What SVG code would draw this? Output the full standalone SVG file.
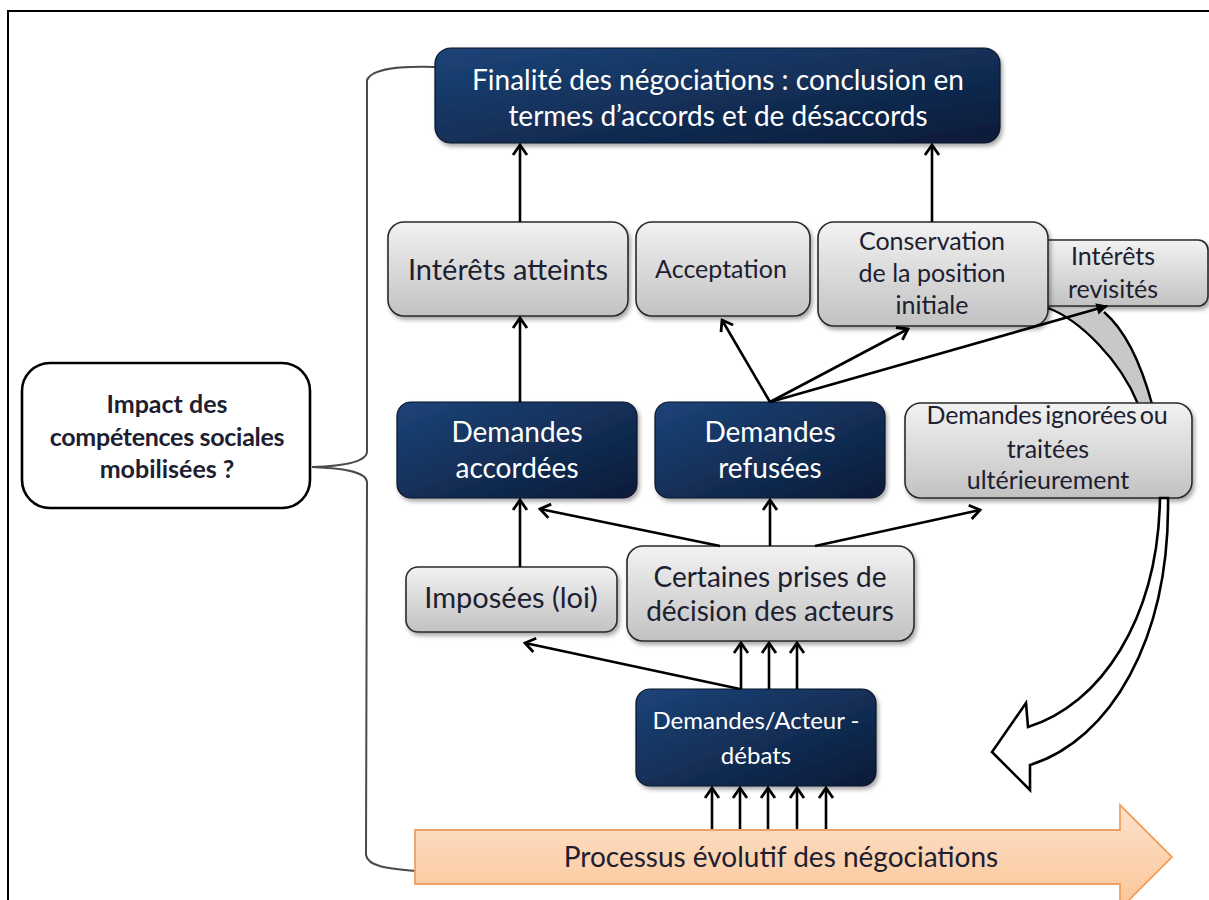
<svg xmlns="http://www.w3.org/2000/svg" width="1209" height="900" viewBox="0 0 1209 900">
<defs>
<linearGradient id="dark" x1="0" y1="0" x2="1" y2="1">
<stop offset="0" stop-color="#1c4478"/>
<stop offset="1" stop-color="#0a1b38"/>
</linearGradient>
<linearGradient id="gray" x1="0" y1="0" x2="0" y2="1">
<stop offset="0" stop-color="#f2f2f2"/>
<stop offset="1" stop-color="#c2c2c2"/>
</linearGradient>
<linearGradient id="orange" x1="0" y1="0" x2="0" y2="1">
<stop offset="0" stop-color="#fde2cc"/>
<stop offset="1" stop-color="#fbc597"/>
</linearGradient>
<filter id="sh" x="-5%" y="-5%" width="115%" height="125%">
<feDropShadow dx="2" dy="3" stdDeviation="2" flood-color="#000" flood-opacity="0.35"/>
</filter>
<marker id="ah" viewBox="-14 -9 16 18" refX="0" refY="0" markerWidth="16" markerHeight="18" markerUnits="userSpaceOnUse" orient="auto">
<path d="M -10 -7 L 0 0 L -10 7" fill="none" stroke="#000" stroke-width="2.8"/>
</marker>
<marker id="af" viewBox="-12 -8 14 16" refX="0" refY="0" markerWidth="14" markerHeight="16" markerUnits="userSpaceOnUse" orient="auto">
<path d="M -10 -5 L 0 0 L -10 5 Z" fill="#000" stroke="#000" stroke-width="1"/>
</marker>
<style>
.d{fill:url(#dark);stroke:#0a1428;stroke-width:1.2;filter:url(#sh)}
.g{fill:url(#gray);stroke:#2a2a2a;stroke-width:1.6;filter:url(#sh)}
.tw{font-family:Lato,"Open Sans","Liberation Sans",sans-serif;fill:#fff;text-anchor:middle}
.tg{font-family:Lato,"Open Sans","Liberation Sans",sans-serif;fill:#1c2030;text-anchor:middle}
.c{stroke:#000;stroke-width:2.6;fill:none}
</style>
</defs>
<rect x="0" y="0" width="1209" height="900" fill="#fff"/>
<rect x="8" y="11" width="1220" height="910" fill="none" stroke="#000" stroke-width="2"/>

<!-- bracket -->
<path d="M 435 67 C 400 66 372 68 367 80 L 367 452 C 366 463 340 466 312 467 C 340 468 366 471 367 482 L 366 855 C 368 868 395 869 416 871" fill="none" stroke="#4a4a4a" stroke-width="2"/>

<g id="impact">
<rect x="22" y="363" width="288" height="145" rx="28" fill="#fff" stroke="#000" stroke-width="2.6"/>
<text class="tg" font-weight="bold" font-size="25" x="167" y="413" fill="#111">Impact des</text>
<text class="tg" font-weight="bold" font-size="25" x="167" y="446" letter-spacing="-0.3">compétences sociales</text>
<text class="tg" font-weight="bold" font-size="25" x="167" y="478">mobilisées ?</text>
</g>

<g id="processus">
<path d="M 415 830 L 1120 830 L 1120 805 L 1172 857 L 1120 909 L 1120 884 L 415 884 Z" fill="url(#orange)" stroke="#f0a060" stroke-width="1.8"/>
<text class="tg" font-size="28" x="781" y="867">Processus évolutif des négociations</text>
</g>

<g id="finalite">
<rect class="d" x="435" y="48" width="565" height="95" rx="16"/>
<text class="tw" font-size="28" x="718" y="90">Finalité des négociations : conclusion en</text>
<text class="tw" font-size="28" x="718" y="126">termes d’accords et de désaccords</text>
</g>

<g id="revisites">
<rect class="g" x="1030" y="240" width="178" height="66" rx="10"/>
<text class="tg" font-size="25" x="1113" y="265">Intérêts</text>
<text class="tg" font-size="25" x="1113" y="298">revisités</text>
</g>

<g id="interets-atteints">
<rect class="g" x="388" y="222" width="240" height="94" rx="16"/>
<text class="tg" font-size="29" x="508" y="280">Intérêts atteints</text>
</g>

<g id="acceptation">
<rect class="g" x="636" y="222" width="174" height="94" rx="16"/>
<text class="tg" font-size="25" x="721" y="278">Acceptation</text>
</g>

<g id="conservation">
<rect class="g" x="818" y="222" width="230" height="104" rx="16"/>
<text class="tg" font-size="25" x="932" y="250">Conservation</text>
<text class="tg" font-size="25" x="932" y="282">de la position</text>
<text class="tg" font-size="25" x="932" y="314">initiale</text>
</g>

<g id="band">
<path d="M 1048 308 C 1080 320 1120 360 1138 404 L 1152 404 C 1140 360 1125 330 1104 312 Z" fill="#c8c8c8" stroke="none"/>
<path d="M 1048 308 C 1080 320 1120 360 1138 404 M 1104 312 C 1125 330 1140 360 1152 404" fill="none" stroke="#000" stroke-width="2.4"/>
</g>

<g id="demandes-accordees">
<rect class="d" x="397" y="402" width="240" height="96" rx="14"/>
<text class="tw" font-size="28" x="517" y="442">Demandes</text>
<text class="tw" font-size="28" x="517" y="478">accordées</text>
</g>

<g id="demandes-refusees">
<rect class="d" x="655" y="402" width="230" height="96" rx="14"/>
<text class="tw" font-size="28" x="770" y="442">Demandes</text>
<text class="tw" font-size="28" x="770" y="478">refusées</text>
</g>

<g id="demandes-ignorees">
<rect class="g" x="905" y="403" width="287" height="95" rx="16"/>
<text class="tg" font-size="25" x="1047" y="424" letter-spacing="-0.2" word-spacing="-3">Demandes ignorées ou</text>
<text class="tg" font-size="25" x="1048" y="458">traitées</text>
<text class="tg" font-size="25" x="1048" y="489">ultérieurement</text>
</g>

<g id="imposees">
<rect class="g" x="406" y="567" width="211" height="65" rx="12"/>
<text class="tg" font-size="29" x="511" y="608">Imposées (loi)</text>
</g>

<g id="certaines">
<rect class="g" x="627" y="546" width="287" height="95" rx="16"/>
<text class="tg" font-size="28" x="770" y="587">Certaines prises de</text>
<text class="tg" font-size="28" x="770" y="621">décision des acteurs</text>
</g>

<g id="demandes-acteur">
<rect class="d" x="636" y="689" width="240" height="97" rx="14"/>
<text class="tw" font-size="24" x="756" y="729">Demandes/Acteur -</text>
<text class="tw" font-size="24" x="756" y="764">débats</text>
</g>

<g id="curved-arrow">
<path d="M 1168 498 C 1170 640 1110 740 1030 765 L 1030 790 L 992 752 L 1026 703 L 1028 727 C 1100 705 1158 620 1160 498 Z" fill="#fff" stroke="#000" stroke-width="2.6" stroke-linejoin="miter"/>
</g>

<g id="connectors">
<line class="c" x1="520" y1="222" x2="520" y2="145" marker-end="url(#ah)"/>
<line class="c" x1="932" y1="222" x2="932" y2="145" marker-end="url(#ah)"/>
<line class="c" x1="520" y1="402" x2="520" y2="318" marker-end="url(#ah)"/>
<line class="c" x1="770" y1="402" x2="722" y2="320" marker-end="url(#ah)"/>
<line class="c" x1="770" y1="402" x2="908" y2="329" marker-end="url(#ah)"/>
<line class="c" x1="770" y1="402" x2="1107" y2="306" marker-end="url(#af)"/>
<line class="c" x1="520" y1="567" x2="520" y2="500" marker-end="url(#ah)"/>
<line class="c" x1="720" y1="546" x2="540" y2="509" marker-end="url(#ah)"/>
<line class="c" x1="770" y1="546" x2="770" y2="500" marker-end="url(#ah)"/>
<line class="c" x1="815" y1="546" x2="980" y2="510" marker-end="url(#ah)"/>
<line class="c" x1="740" y1="689" x2="525" y2="643" marker-end="url(#ah)"/>
<line class="c" x1="741" y1="689" x2="741" y2="643" marker-end="url(#ah)"/>
<line class="c" x1="769" y1="689" x2="769" y2="643" marker-end="url(#ah)"/>
<line class="c" x1="797" y1="689" x2="797" y2="643" marker-end="url(#ah)"/>
<line class="c" x1="712" y1="829" x2="712" y2="788" marker-end="url(#ah)"/>
<line class="c" x1="740" y1="829" x2="740" y2="788" marker-end="url(#ah)"/>
<line class="c" x1="768" y1="829" x2="768" y2="788" marker-end="url(#ah)"/>
<line class="c" x1="797" y1="829" x2="797" y2="788" marker-end="url(#ah)"/>
<line class="c" x1="826" y1="829" x2="826" y2="788" marker-end="url(#ah)"/>
</g>
</svg>
